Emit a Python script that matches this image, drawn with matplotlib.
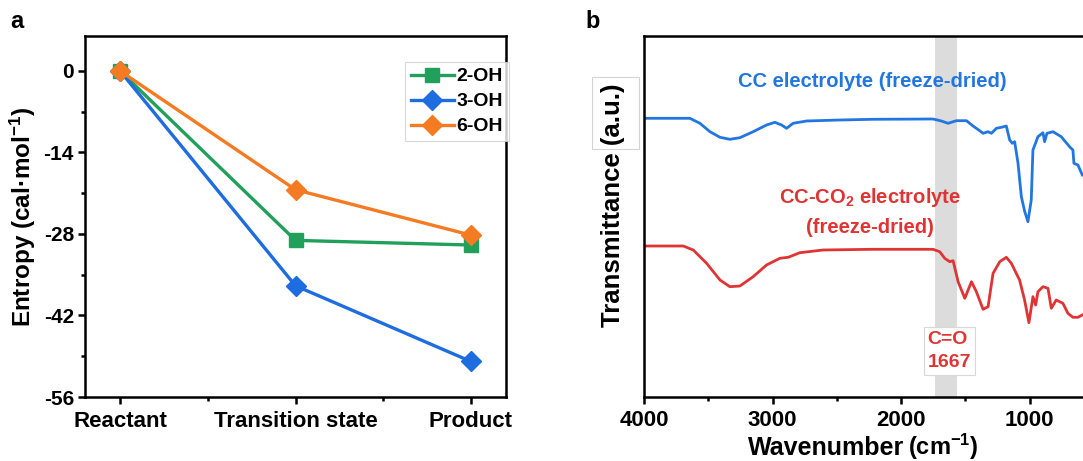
import matplotlib
matplotlib.use("Agg")
import matplotlib.pyplot as plt
from matplotlib.ticker import MultipleLocator, FixedLocator
from matplotlib.patches import Rectangle
import numpy as np

plt.rcParams['font.family'] = ['Liberation Sans', 'DejaVu Sans']
plt.rcParams['font.weight'] = 'bold'
plt.rcParams['axes.unicode_minus'] = False
plt.rcParams['mathtext.fontset'] = 'custom'
plt.rcParams['mathtext.rm'] = 'Liberation Sans:bold'
plt.rcParams['mathtext.bf'] = 'Liberation Sans:bold'
plt.rcParams['mathtext.default'] = 'bf'

# panel a data
stages = ["Reactant", "Transition state", "Product"]
oh2 = [0, -29.1, -29.9]
oh3 = [0, -36.9, -49.9]
oh6 = [0, -20.4, -28.2]

# panel b data (FTIR, transmittance in a.u.)
wn_cc = [4000, 3643, 3565, 3487, 3409, 3332, 3254, 3151, 3047, 2982, 2930, 2891,
         2840, 2736, 2477, 2218, 1752, 1687, 1635, 1570, 1492, 1441, 1389, 1363,
         1324, 1298, 1259, 1220, 1182, 1156, 1135, 1117, 1091, 1065, 1040, 1014,
         988, 975, 936, 897, 884, 866, 819, 755, 690, 664, 656, 625, 591]
t_cc = [278.7, 278.7, 273.7, 265.3, 259.7, 257.7, 259.3, 265.3, 272, 274.7, 272,
        268.7, 273.7, 276, 277, 277.7, 278, 276, 273.7, 276.3, 276.3, 271, 266.3,
        263.7, 265.3, 263.7, 268.7, 269.7, 271, 257, 253.7, 255.3, 233.7, 200.3,
        186, 175.3, 197, 247, 260.3, 264.3, 255.3, 263.7, 265.3, 260.3, 250.3,
        247, 233.7, 232, 222]
wn_co2 = [4000, 3695, 3617, 3513, 3409, 3332, 3254, 3151, 3047, 2943, 2879, 2788,
          2607, 2218, 1752, 1700, 1661, 1622, 1596, 1557, 1505, 1453, 1415, 1363,
          1324, 1285, 1233, 1182, 1143, 1079, 1040, 1006, 975, 954, 936, 897, 858,
          832, 794, 742, 703, 664, 625, 591]
t_co2 = [151, 151, 147, 133.7, 117, 110.3, 111, 120.3, 132, 138.7, 139.7, 144.3,
         147, 147.7, 147.7, 145.3, 138.7, 135.3, 136.3, 115.3, 98.7, 115.3, 105.3,
         87.7, 90.3, 123.7, 135.3, 139.7, 133.7, 117, 97, 74.3, 100.3, 92, 105.3,
         110.3, 108.7, 88.7, 97, 93.7, 83.7, 79.7, 79.7, 82]
band = (1740, 1565)

W, H = 1083, 461
fig = plt.figure(figsize=(W/100, H/100), dpi=100)

# ---- panel a
ax = fig.add_axes([85/W, 64/H, 421/W, 361/H])
x = np.arange(len(stages))
ax.plot(x, oh2, '-s', color='#21a05b', lw=2.4, ms=10, label='2-OH')
ax.plot(x, oh3, '-D', color='#1d6de0', lw=2.4, ms=10, label='3-OH')
ax.plot(x, oh6, '-D', color='#f57b22', lw=2.4, ms=10, label='6-OH')
ax.set_xlim(-0.2, 2.2)
ax.set_ylim(-56, 6)
ax.set_xticks(x)
ax.set_xticklabels(stages, fontsize=16, fontweight='bold')
ax.xaxis.set_minor_locator(FixedLocator([0.5, 1.5]))
ax.set_yticks([0, -14, -28, -42, -56])
ax.yaxis.set_minor_locator(MultipleLocator(7))
ax.tick_params(labelsize=15, width=1.8, length=5, direction='out', pad=3)
ax.tick_params(axis='x', labelsize=16, pad=5)
ax.tick_params(which='minor', width=1.8, length=3)
for lab in ax.get_yticklabels():
    lab.set_fontweight('bold')
ax.set_ylabel('Entropy (cal·mol$^{-1}$)', fontsize=17.5, fontweight='bold', labelpad=4)
for s in ax.spines.values():
    s.set_linewidth(1.8)
leg = ax.legend(loc='upper left', bbox_to_anchor=(405/W, 1 - 62/H),
                bbox_transform=fig.transFigure,
                frameon=True, fancybox=False, edgecolor='#d0d0d0',
                handlelength=2.2, borderpad=0.3, labelspacing=0.38, handletextpad=0.15,
                borderaxespad=0.0, prop={'weight': 'bold', 'size': 14})
leg.get_frame().set_linewidth(0.8)
fig.text(10/W, 1 - 22/H, 'a', fontsize=17, fontweight='bold', va='center')

# ---- panel b
bx = fig.add_axes([644/W, 64/H, 450/W, 361/H])
bx.axvspan(band[0], band[1], color='#dcdcdc', lw=0, zorder=0)
bx.plot(wn_cc, t_cc, color='#2276e0', lw=2, solid_joinstyle='round')
bx.plot(wn_co2, t_co2, color='#e03434', lw=2, solid_joinstyle='round')
bx.set_xlim(4000, 500)
bx.set_ylim(0, 361)
bx.set_yticks([])
bx.set_xticks([4000, 3000, 2000, 1000])
bx.xaxis.set_minor_locator(FixedLocator([3500, 2500, 1500]))
bx.tick_params(labelsize=16, width=1.8, length=5, direction='out', pad=4)
bx.tick_params(which='minor', width=1.8, length=3)
for lab in bx.get_xticklabels():
    lab.set_fontweight('bold')
bx.spines['right'].set_visible(False)
for s in bx.spines.values():
    s.set_linewidth(1.8)
fig.text(904/W, 1 - 455/H, 'Wavenumber', fontsize=18, fontweight='bold',
         ha='right', va='baseline')
fig.text(908/W, 1 - 455/H, '(cm$^{-1}$)', fontsize=17, fontweight='bold',
         ha='left', va='baseline')
bx.set_ylabel('Transmittance (a.u.)', fontsize=18.5, fontweight='bold')
bx.yaxis.set_label_coords((625 - 644)/450, (397 - 205)/361)
fig.add_artist(Rectangle((592/W, 1 - 149/H), 47/W, 72/H, transform=fig.transFigure,
                         fill=False, ec='#d4d4d4', lw=0.8))
bx.text(2221, 316, 'CC electrolyte (freeze-dried)', color='#2276e0', fontsize=14.5,
        fontweight='bold', ha='center', va='center')
bx.text(2244, 200, 'CC-CO$_2$ electrolyte', color='#e03434', fontsize=14.5,
        fontweight='bold', ha='center', va='center')
bx.text(2244, 170, '(freeze-dried)', color='#e03434', fontsize=14.5,
        fontweight='bold', ha='center', va='center')
bx.text(1795, 46, 'C=O\n1667', color='#e03434', fontsize=14, fontweight='bold',
        ha='left', va='center', linespacing=1.45,
        bbox=dict(boxstyle='square,pad=0.2', fc='white', ec='#d8d8d8', lw=0.8))
fig.text(585/W, 1 - 22/H, 'b', fontsize=17, fontweight='bold', va='center')

fig.savefig('out.png', dpi=100)
